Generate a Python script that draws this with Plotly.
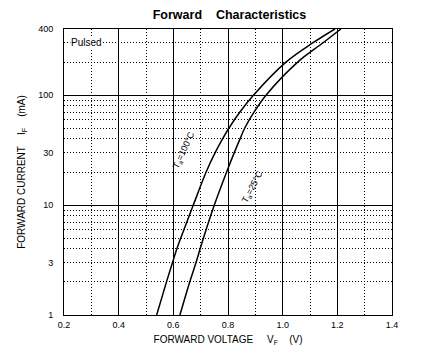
import math
import plotly.graph_objects as go

# ---- data ----
vf_25 = [0.624, 0.660, 0.683, 0.698, 0.710, 0.750, 0.795, 0.823, 0.844, 0.861, 0.895, 0.939, 1.055, 1.148, 1.213]
if_25 = [1, 2, 3, 4, 5, 10, 20, 30, 40, 50, 70, 100, 200, 300, 400]
vf_100 = [0.539, 0.575, 0.597, 0.613, 0.627, 0.673, 0.720, 0.753, 0.780, 0.803, 0.843, 0.893, 1.012, 1.111, 1.191]
if_100 = [1, 2, 3, 4, 5, 10, 20, 30, 40, 50, 70, 100, 200, 300, 400]

x_tick_vals = [0.2, 0.4, 0.6, 0.8, 1.0, 1.2, 1.4]
x_tick_text = ["0.2", "0.4", "0.6", "0.8", "1.0", "1.2", "1.4"]
x_minor_grid = [0.3, 0.5, 0.7, 0.9, 1.1, 1.3]
y_tick_vals = [1, 3, 10, 30, 100, 400]
y_tick_text = ["1", "3", "10", "30", "100", "400"]
y_major_grid = [10, 100]
y_minor_grid = [2, 3, 4, 5, 6, 7, 8, 9, 20, 30, 40, 50, 60, 70, 80, 90, 200, 300]

FONT = "Liberation Sans, Arial, sans-serif"
NB = "\u00a0"
Y_RANGE = [0, math.log10(400)]

fig = go.Figure()
for vx, iy in [(vf_100, if_100), (vf_25, if_25)]:
    fig.add_trace(go.Scatter(x=vx, y=iy, mode="lines",
                             line=dict(color="black", width=1.5, shape="spline", smoothing=1.0),
                             showlegend=False, hoverinfo="skip"))

fig.update_xaxes(range=[0.2, 1.4], tickvals=x_tick_vals, ticktext=x_tick_text,
                 showgrid=True, gridcolor="black", gridwidth=1, automargin=False,
                 showline=True, linecolor="black", linewidth=1, mirror=True,
                 ticks="", ticklabelstandoff=1, zeroline=False,
                 tickfont=dict(family=FONT, size=9, color="black"),
                 minor=dict(tickvals=x_minor_grid, showgrid=True, gridcolor="black",
                            griddash="1px,2px", gridwidth=1, ticks=""),
                 title=dict(text="FORWARD VOLTAGE" + NB * 5 + "V<sub>F</sub>" + NB * 4 + "(V)",
                            font=dict(family=FONT, size=10, color="black"), standoff=7))
fig.update_yaxes(type="log", range=Y_RANGE, tickvals=y_tick_vals, ticktext=y_tick_text,
                 showgrid=False, automargin=False,
                 showline=True, linecolor="black", linewidth=1, mirror=True,
                 ticks="", ticklabelstandoff=8, zeroline=False,
                 tickfont=dict(family=FONT, size=9, color="black"),
                 minor=dict(tickvals=y_minor_grid, showgrid=True, gridcolor="black",
                            griddash="1px,2px", gridwidth=1, ticks=""),
                 title=dict(text="FORWARD CURRENT" + NB * 4 + "I<sub>F</sub>" + NB * 4 + "(mA)",
                            font=dict(family=FONT, size=10, color="black"), standoff=10))

# overlay axis that only supplies the solid decade grid lines
fig.update_layout(yaxis2=dict(type="log", range=Y_RANGE, overlaying="y", side="left",
                              tickvals=y_major_grid, showticklabels=False, ticks="",
                              showgrid=True, gridcolor="black", gridwidth=1,
                              showline=False, zeroline=False, automargin=False))
fig.add_trace(go.Scatter(x=[], y=[], yaxis="y2", showlegend=False, hoverinfo="skip"))

fig.add_annotation(x=0.283, y=math.log10(300), xref="x", yref="y", text="Pulsed",
                   showarrow=False, bgcolor="white", borderpad=0,
                   font=dict(family=FONT, size=10, color="black"))
fig.add_annotation(x=0.638, y=math.log10(31.6), xref="x", yref="y",
                   text="T<sub>a</sub>=100\u00b0C", textangle=-65, showarrow=False,
                   font=dict(family=FONT, size=9, color="black"))
fig.add_annotation(x=0.888, y=math.log10(14.6), xref="x", yref="y",
                   text="T<sub>a</sub>=25\u00b0C", textangle=-62, showarrow=False,
                   font=dict(family=FONT, size=9, color="black"))

# the page body adds an 8px offset, so margins are reduced by 8px on the left/top
fig.update_layout(
    width=425, height=358,
    margin=dict(l=56, r=41, t=21, b=51),
    paper_bgcolor="white", plot_bgcolor="white",
    title=dict(text="Forward" + NB * 4 + "Characteristics", x=221.5 / 425, xanchor="center",
               y=1 - 6.5 / 358, yanchor="middle",
               font=dict(family=FONT, size=12.5, color="black", weight="bold")),
)

fig.write_html("out.html")
